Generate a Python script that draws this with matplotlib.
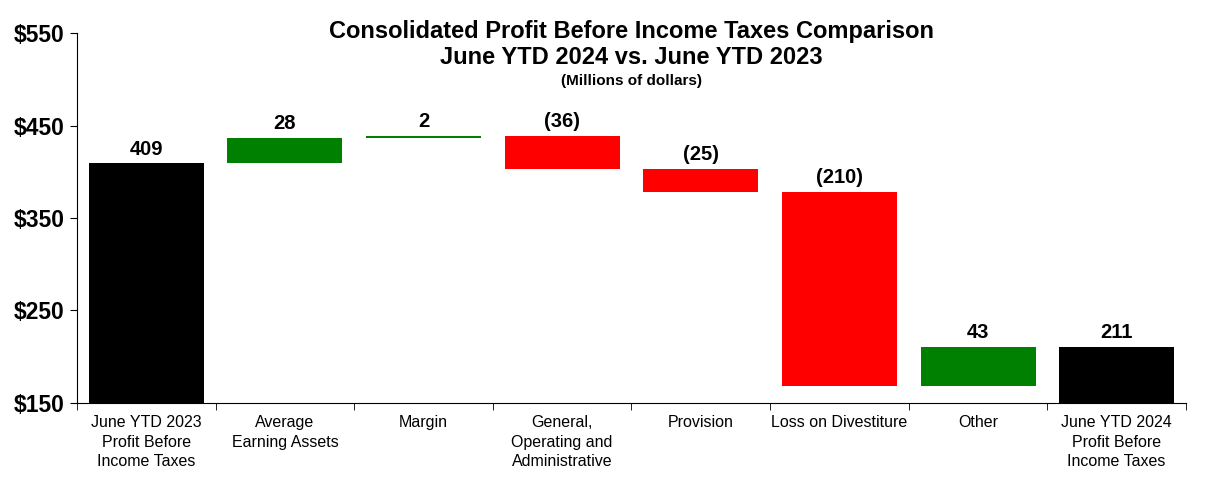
import matplotlib.pyplot as plt
from matplotlib.ticker import FixedLocator, NullFormatter

plt.rcParams['font.family'] = ['Liberation Sans', 'DejaVu Sans']

# data
categories = ['June YTD 2023\nProfit Before\nIncome Taxes', 'Average\nEarning Assets', 'Margin',
              'General,\nOperating and\nAdministrative', 'Provision', 'Loss on Divestiture',
              'Other', 'June YTD 2024\nProfit Before\nIncome Taxes']
changes = [409, 28, 2, -36, -25, -210, 43, 211]
labels = ['409', '28', '2', '(36)', '(25)', '(210)', '43', '211']
is_total = [True, False, False, False, False, False, False, True]
y_ticks = [150, 250, 350, 450, 550]

fig = plt.figure(figsize=(12.05, 4.87), dpi=100)
ax = fig.add_axes([0.0639, 0.1725, 0.9203, 0.7597])

running = 0
for i, (c, tot) in enumerate(zip(changes, is_total)):
    if tot:
        bottom, height, col = 0, c, 'black'
        running = c
    else:
        if c >= 0:
            bottom, height, col = running, c, '#008000'
        else:
            bottom, height, col = running + c, -c, '#FF0000'
        running += c
    ax.bar(i, height, bottom=bottom, width=0.83, color=col)
    ax.text(i, bottom + height + 5, labels[i], ha='center', va='bottom',
            fontsize=14.5, fontweight='bold')

ax.set_xlim(-0.5, len(categories) - 0.5)
ax.set_ylim(150, 550)
ax.set_yticks(y_ticks)
ax.set_yticklabels(['$' + str(v) for v in y_ticks], fontsize=16.5, fontweight='bold')
ax.set_xticks(range(len(categories)))
ax.set_xticklabels(categories, fontsize=11.5, linespacing=1.35)
ax.tick_params(axis='x', length=0, pad=9)
ax.xaxis.set_minor_locator(FixedLocator([i + 0.5 for i in range(-1, len(categories))]))
ax.xaxis.set_minor_formatter(NullFormatter())
ax.tick_params(axis='x', which='minor', length=5, direction='out')
ax.tick_params(axis='y', length=5, direction='out', pad=4)
ax.spines['top'].set_visible(False)
ax.spines['right'].set_visible(False)

fig.text(0.524, 0.935, 'Consolidated Profit Before Income Taxes Comparison', ha='center',
         va='center', fontsize=17, fontweight='bold')
fig.text(0.524, 0.881, 'June YTD 2024 vs. June YTD 2023', ha='center',
         va='center', fontsize=17, fontweight='bold')
fig.text(0.524, 0.834, '(Millions of dollars)', ha='center',
         va='center', fontsize=11, fontweight='bold')

fig.savefig('out.png', dpi=100)
